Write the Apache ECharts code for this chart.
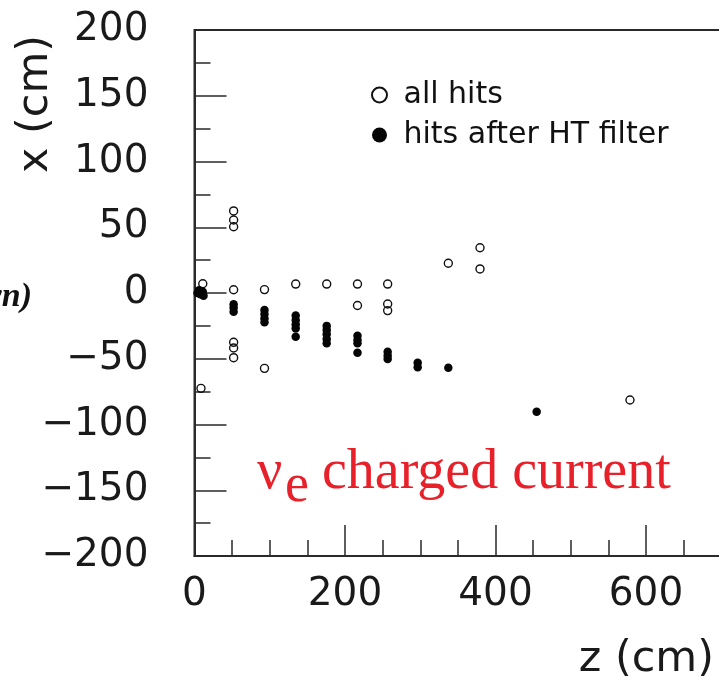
<!DOCTYPE html>
<html>
<head>
<meta charset="utf-8">
<script src="https://cdn.jsdelivr.net/npm/echarts@6/dist/echarts.min.js"></script>
<style>
  html, body { margin: 0; padding: 0; background: #fff; }
  #chart { width: 719px; height: 677px; }
</style>
</head>
<body>
<div id="chart"></div>
<script>
// Hit positions [z (cm), x (cm)]
const allHits = [
  [11, 7], [8.6, -72.5],
  [52, 62.4], [52, 55.5], [52, 50.4], [52, 2.5], [52, -37.5], [52, -41.8], [52, -49.2],
  [93, 2.6], [93, -57.3],
  [134.5, 6.8],
  [175.7, 6.8],
  [216.6, 6.8], [216.6, -9.5],
  [256.7, 6.8], [256.7, -8.4], [256.7, -13.4],
  [337.3, 22.6],
  [379.4, 34.4], [379.4, 18.3],
  [578.7, -81.4]
];

const htFilteredHits = [
  [4, 0], [6, 2], [8, -1], [11, 1], [12, -2],
  [52, -8.6], [52, -11.2], [52, -14.2],
  [93, -12.9], [93, -16], [93, -19.3], [93, -22.3],
  [134.5, -17.2], [134.5, -20.5], [134.5, -23.8], [134.5, -26.9], [134.5, -33.2],
  [175.7, -25], [175.7, -28.1], [175.7, -31.4], [175.7, -35], [175.7, -38.3],
  [216.6, -32.5], [216.6, -35.7], [216.6, -38.3], [216.6, -45.4],
  [256.7, -44.6], [256.7, -47.7], [256.7, -50.2],
  [296.6, -53], [296.6, -56.5],
  [337.3, -56.8],
  [454.7, -90.3]
];

const seriesNames = ['all hits', 'hits after HT filter'];

const axisColor = '#2a2a2a';
const tickFont = 'DejaVu Sans';
const red = '#e8202a';

const chart = echarts.init(document.getElementById('chart'), null, { renderer: 'canvas' });

chart.setOption({
  animation: false,
  backgroundColor: '#fff',
  // the frame runs past the right edge of the page
  grid: {
    left: 194.5, top: 30, width: 602, bottom: 121,
    outerBoundsMode: 'none',
    containLabel: false,
    show: true, borderColor: axisColor, borderWidth: 2
  },
  xAxis: {
    type: 'value', min: 0, max: 800, interval: 200,
    axisLine: { show: true, onZero: false, lineStyle: { color: axisColor, width: 2 } },
    axisTick: { show: true, inside: true, length: 31, lineStyle: { color: axisColor, width: 1.5 } },
    minorTick: { show: true, splitNumber: 4, length: 16, lineStyle: { color: axisColor, width: 1.5 } },
    splitLine: { show: false },
    axisLabel: { fontFamily: tickFont, fontSize: 39, color: '#1a1a1a', margin: 19 }
  },
  yAxis: {
    type: 'value', min: -200, max: 200, interval: 50,
    axisLine: { show: true, onZero: false, lineStyle: { color: axisColor, width: 2 } },
    axisTick: { show: true, inside: true, length: 32, lineStyle: { color: axisColor, width: 1.5 } },
    minorTick: { show: true, splitNumber: 2, length: 16, lineStyle: { color: axisColor, width: 1.5 } },
    splitLine: { show: false },
    axisLabel: {
      fontFamily: tickFont, fontSize: 39, color: '#1a1a1a', margin: 46,
      formatter: v => (v < 0 ? '\u2212' + Math.abs(v) : String(v))
    }
  },
  legend: {
    data: seriesNames,
    orient: 'vertical',
    left: 371, top: 80,
    padding: 0,
    itemWidth: 24, itemHeight: 15, itemGap: 10,
    icon: 'circle',
    textStyle: { fontFamily: tickFont, fontSize: 30, color: '#111', padding: [0, 0, 0, 7] }
  },
  series: [
    {
      name: seriesNames[0], type: 'scatter', data: allHits,
      symbol: 'circle', symbolSize: 8, z: 2,
      itemStyle: { color: 'rgba(0,0,0,0)', borderColor: '#111', borderWidth: 1.4, opacity: 1 }
    },
    {
      name: seriesNames[1], type: 'scatter', data: htFilteredHits,
      symbol: 'circle', symbolSize: 8.5, z: 3,
      itemStyle: { color: '#050505', opacity: 1 }
    }
  ],
  graphic: [
    {
      type: 'text', x: 36, y: 104, rotation: Math.PI / 2,
      style: { text: 'x (cm)', fontFamily: tickFont, fontSize: 43, fill: '#1a1a1a', align: 'center', verticalAlign: 'middle' }
    },
    {
      type: 'text', x: 714, y: 660,
      style: { text: 'z (cm)', fontFamily: tickFont, fontSize: 43, fill: '#1a1a1a', align: 'right', verticalAlign: 'middle' }
    },
    {
      type: 'text', x: 32, y: 297,
      style: { text: '(shown)', fontFamily: 'Liberation Serif', fontStyle: 'italic', fontWeight: 'bold', fontSize: 34, fill: '#111', align: 'right', verticalAlign: 'middle' }
    },
    {
      type: 'text', x: 257, y: 473,
      style: { text: '\u03BD', fontFamily: 'Liberation Serif', fontSize: 56, fill: red, align: 'left', verticalAlign: 'middle' }
    },
    {
      type: 'text', x: 285, y: 487,
      style: { text: 'e', fontFamily: 'Liberation Serif', fontSize: 54, fill: red, align: 'left', verticalAlign: 'middle' }
    },
    {
      type: 'text', x: 322, y: 473,
      style: { text: 'charged current', fontFamily: 'Liberation Serif', fontSize: 56, fill: red, align: 'left', verticalAlign: 'middle' }
    }
  ]
});
</script>
</body>
</html>
